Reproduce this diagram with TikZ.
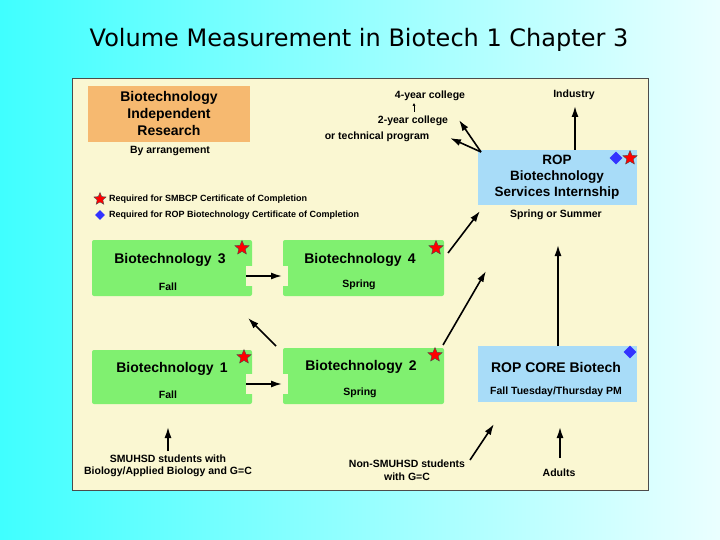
\documentclass[tikz,border=0pt]{standalone}
\usepackage{fontspec}
\setmainfont{Liberation Sans}
\newfontfamily\titlefont{DejaVu Sans}
\usetikzlibrary{shapes.geometric,arrows.meta}
\definecolor{panel}{HTML}{FAF7D2}
\definecolor{grn}{HTML}{80F070}
\definecolor{blu}{HTML}{A8DCF8}
\definecolor{org}{HTML}{F6B970}
\tikzset{
 lab/.style={font=\bfseries\fontsize{10.5}{12.5}\selectfont,align=center,inner sep=1pt},
 big/.style={font=\bfseries\fontsize{14}{17}\selectfont,align=center,inner sep=1pt},
 arr/.style={-{Latex[length=11pt,width=7pt]},line width=1.6pt},
 starm/.style={star,star points=5,star point ratio=2.2,fill=red,draw=black!70,inner sep=0pt,minimum size=15pt},
 diam/.style={diamond,fill=blue!80,inner sep=0pt,minimum size=13pt},
 notch/.style={fill=panel,draw=none}
}
\begin{document}
\begin{tikzpicture}[x=1pt,y=-1pt]
\shade[left color=cyan!75!white,right color=cyan!8!white] (0,0) rectangle (720,540);
\useasboundingbox (0,0) rectangle (720,540);
\node[font=\titlefont\fontsize{24}{28}\selectfont] (title) at (359,40) {Volume Measurement in Biotech 1 Chapter 3};
\fill[panel,draw=black!70,line width=0.8pt] (72,78) rectangle (648,490);
\fill[org] (88,86) rectangle (250,142);
\node[big] (res) at (169,113) {Biotechnology\\Independent\\Research};
\node[lab] (arrg) at (170,151) {By arrangement};
\node[starm,minimum size=13pt] (ls) at (100,199) {};
\node[lab,font=\fontsize{9}{10}\selectfont\bfseries,anchor=west] (lt1) at (108,199) {Required for SMBCP Certificate of Completion};
\node[diam,minimum size=10pt] (ld) at (100,215) {};
\node[lab,font=\fontsize{9}{10}\selectfont\bfseries,anchor=west] (lt2) at (108,215) {Required for ROP Biotechnology Certificate of Completion};
\fill[grn,rounded corners=2pt] (92,240) rectangle (252,296);
\fill[grn,rounded corners=2pt] (283,240) rectangle (444,296);
\fill[grn,rounded corners=2pt] (92,350) rectangle (252,404);
\fill[grn,rounded corners=2pt] (283,348) rectangle (444,404);
\fill[notch] (246,266) rectangle (253,286);
\fill[notch] (282,266) rectangle (288,286);
\fill[notch] (246,374) rectangle (253,394);
\fill[notch] (282,374) rectangle (288,394);
\node[big] (b3) at (170,260) {Biotechnology\, 3};
\node[lab] (b3s) at (168,287) {Fall};
\node[big] (b4) at (360,260) {Biotechnology\, 4};
\node[lab] (b4s) at (359,285) {Spring};
\node[big] (b1) at (172,369) {Biotechnology\, 1};
\node[lab] (b1s) at (168,395) {Fall};
\node[big] (b2) at (361,367) {Biotechnology\, 2};
\node[lab] (b2s) at (360,393) {Spring};
\fill[blu] (478,150) rectangle (637,205);
\node[big,font=\bfseries\fontsize{13.5}{16}\selectfont] (int) at (557,177) {ROP\\Biotechnology\\Services Internship};
\node[lab] (intS) at (556,215) {Spring or Summer};
\fill[blu] (478,346) rectangle (637,402);
\node[big] (core) at (556,367) {ROP CORE Biotech};
\node[lab] (coreS) at (556,392) {Fall Tuesday/Thursday PM};
\node[starm] (s3) at (242,248) {};
\node[starm] (s4) at (436,248) {};
\node[starm] (s1) at (244,357) {};
\node[starm] (s2) at (435,355) {};
\node[diam] (d1) at (616,158) {};
\node[starm] (s5) at (630,158) {};
\node[diam] (d2) at (630,352) {};
\node[lab] (fy) at (430,96) {4-year college};
\node[lab] (ty) at (413,121) {2-year college};
\node[lab] (tp) at (377,137) {or technical program};
\node[lab] (ind) at (574,95) {Industry};
\node[lab] (sm) at (168,466) {SMUHSD students with\\Biology/Applied Biology and G=C};
\node[lab] (ns) at (407,470) {Non-SMUHSD students\\with G=C};
\node[lab] (ad) at (559,473) {Adults};
\coordinate (q1) at (414,112); \coordinate (q2) at (414,103);
\draw[-{Latex[length=3pt,width=3pt]},line width=0.5pt] (q1) -- (q2);
\coordinate (c1) at (481,152);
\coordinate (c1a) at (450,138);
\coordinate (c1b) at (459,120);
\draw[arr] (c1) -- (c1a);
\draw[arr] (c1) -- (c1b);
\coordinate (i1) at (575,150); \coordinate (i2) at (575,106);
\draw[arr] (i1) -- (i2);
\coordinate (a1) at (246,276); \coordinate (a2) at (282,276);
\draw[arr] (a1) -- (a2);
\coordinate (a3) at (246,384); \coordinate (a4) at (282,384);
\draw[arr] (a3) -- (a4);
\coordinate (a5) at (276,346); \coordinate (a6) at (248,318);
\draw[arr] (a5) -- (a6);
\coordinate (a7) at (443,345); \coordinate (a8) at (486,271);
\draw[arr] (a7) -- (a8);
\coordinate (a9) at (448,253); \coordinate (a10) at (480,211);
\draw[arr] (a9) -- (a10);
\coordinate (a11) at (558,346); \coordinate (a12) at (558,245);
\draw[arr] (a11) -- (a12);
\coordinate (a13) at (168,451); \coordinate (a14) at (168,427);
\draw[arr] (a13) -- (a14);
\coordinate (a15) at (470,460); \coordinate (a16) at (494,424);
\draw[arr] (a15) -- (a16);
\coordinate (a17) at (560,458); \coordinate (a18) at (560,427);
\draw[arr] (a17) -- (a18);
\end{tikzpicture}
\end{document}
